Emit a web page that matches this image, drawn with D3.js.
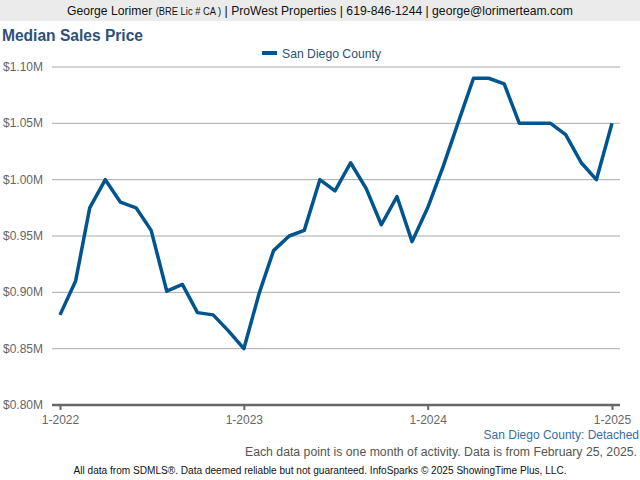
<!DOCTYPE html>
<html><head><meta charset="utf-8">
<script src="https://cdn.jsdelivr.net/npm/d3@7"></script>
<style>body{margin:0;background:#fff}svg{display:block;font-family:"Liberation Sans",Arial,sans-serif}</style>
</head><body>
<script>
const months = d3.range(37).map(i => new Date(2022, i, 1));
const prices = [0.880,0.910,0.975,1.000,0.980,0.975,0.955,0.901,0.907,0.882,0.880,0.866,0.850,
  0.900,0.937,0.950,0.955,1.000,0.990,1.015,0.992,0.960,0.985,0.945,0.975,1.012,1.050,1.090,1.090,1.085,
  1.050,1.050,1.050,1.040,1.015,1.000,1.050];
const yTicks = [0.80,0.85,0.90,0.95,1.00,1.05,1.10];
const xTicks = [new Date(2022,0,1),new Date(2023,0,1),new Date(2024,0,1),new Date(2025,0,1)];
const seriesName = "San Diego County";

const W=640,H=480;
const svg=d3.select("body").append("svg").attr("width",W).attr("height",H);
svg.append("rect").attr("x",0).attr("y",0).attr("width",W).attr("height",21).attr("fill","#ebebeb");
const hdr=svg.append("text").attr("x",320).attr("y",15).attr("text-anchor","middle").attr("font-size",13).attr("fill","#111")
  .attr("textLength",506).attr("lengthAdjust","spacingAndGlyphs");
hdr.append("tspan").text("George Lorimer ");
hdr.append("tspan").attr("font-size",10).text("(BRE Lic # CA )");
hdr.append("tspan").text(" | ProWest Properties | 619-846-1244 | george@lorimerteam.com");
svg.append("text").attr("x",2).attr("y",41).attr("font-size",16).attr("font-weight","bold").attr("fill","#2d5079")
  .attr("textLength",141).attr("lengthAdjust","spacingAndGlyphs").text("Median Sales Price");

const x=d3.scaleTime().domain([months[0],months[36]]).range([60,612]);
const y=d3.scaleLinear().domain([0.80,1.10]).range([405,67]);

const grid=svg.append("g");
grid.selectAll("line").data(yTicks.slice(1)).join("line")
  .attr("x1",52).attr("x2",620).attr("y1",d=>y(d)).attr("y2",d=>y(d)).attr("stroke","#aaa").attr("stroke-width",1);
svg.append("g").selectAll("text").data(yTicks).join("text")
  .attr("x",43).attr("y",d=>y(d)+4).attr("text-anchor","end").attr("font-size",12).attr("fill","#666")
  .text(d=>"$"+d.toFixed(2)+"M");

const xa=svg.append("g").attr("transform","translate(0,405)")
  .call(d3.axisBottom(x).tickValues(xTicks).tickSize(5).tickSizeOuter(0).tickFormat(d=>(d.getMonth()+1)+"-"+d.getFullYear()));
xa.select(".domain").remove();
xa.selectAll(".tick line").attr("stroke","#666").attr("stroke-width",2);
xa.selectAll(".tick text").attr("font-size",12).attr("fill","#666").attr("dy","0.9em").attr("font-family","Liberation Sans, Arial, sans-serif");
svg.append("line").attr("x1",52).attr("x2",620).attr("y1",405).attr("y2",405).attr("stroke","#666").attr("stroke-width",2.5);

svg.append("path").datum(prices).attr("fill","none").attr("stroke","#00558f").attr("stroke-width",3.5)
  .attr("stroke-linejoin","round")
  .attr("d",d3.line().x((d,i)=>x(months[i])).y(d=>y(d)));

svg.append("line").attr("x1",262).attr("x2",277).attr("y1",53).attr("y2",53).attr("stroke","#00558f").attr("stroke-width",4);
svg.append("text").attr("x",282).attr("y",58).attr("font-size",13).attr("fill","#2d5079")
  .attr("textLength",99).attr("lengthAdjust","spacingAndGlyphs").text(seriesName);

svg.append("text").attr("x",639).attr("y",439).attr("text-anchor","end").attr("font-size",12).attr("fill","#3a6ea5").text("San Diego County: Detached");
svg.append("text").attr("x",637).attr("y",456).attr("text-anchor","end").attr("font-size",12).attr("fill","#555")
  .attr("textLength",392).attr("lengthAdjust","spacingAndGlyphs").text("Each data point is one month of activity. Data is from February 25, 2025.");
svg.append("text").attr("x",320).attr("y",474).attr("text-anchor","middle").attr("font-size",10).attr("fill","#111")
  .attr("textLength",493).attr("lengthAdjust","spacingAndGlyphs").text("All data from SDMLS®. Data deemed reliable but not guaranteed. InfoSparks © 2025 ShowingTime Plus, LLC.");
</script>
</body></html>
